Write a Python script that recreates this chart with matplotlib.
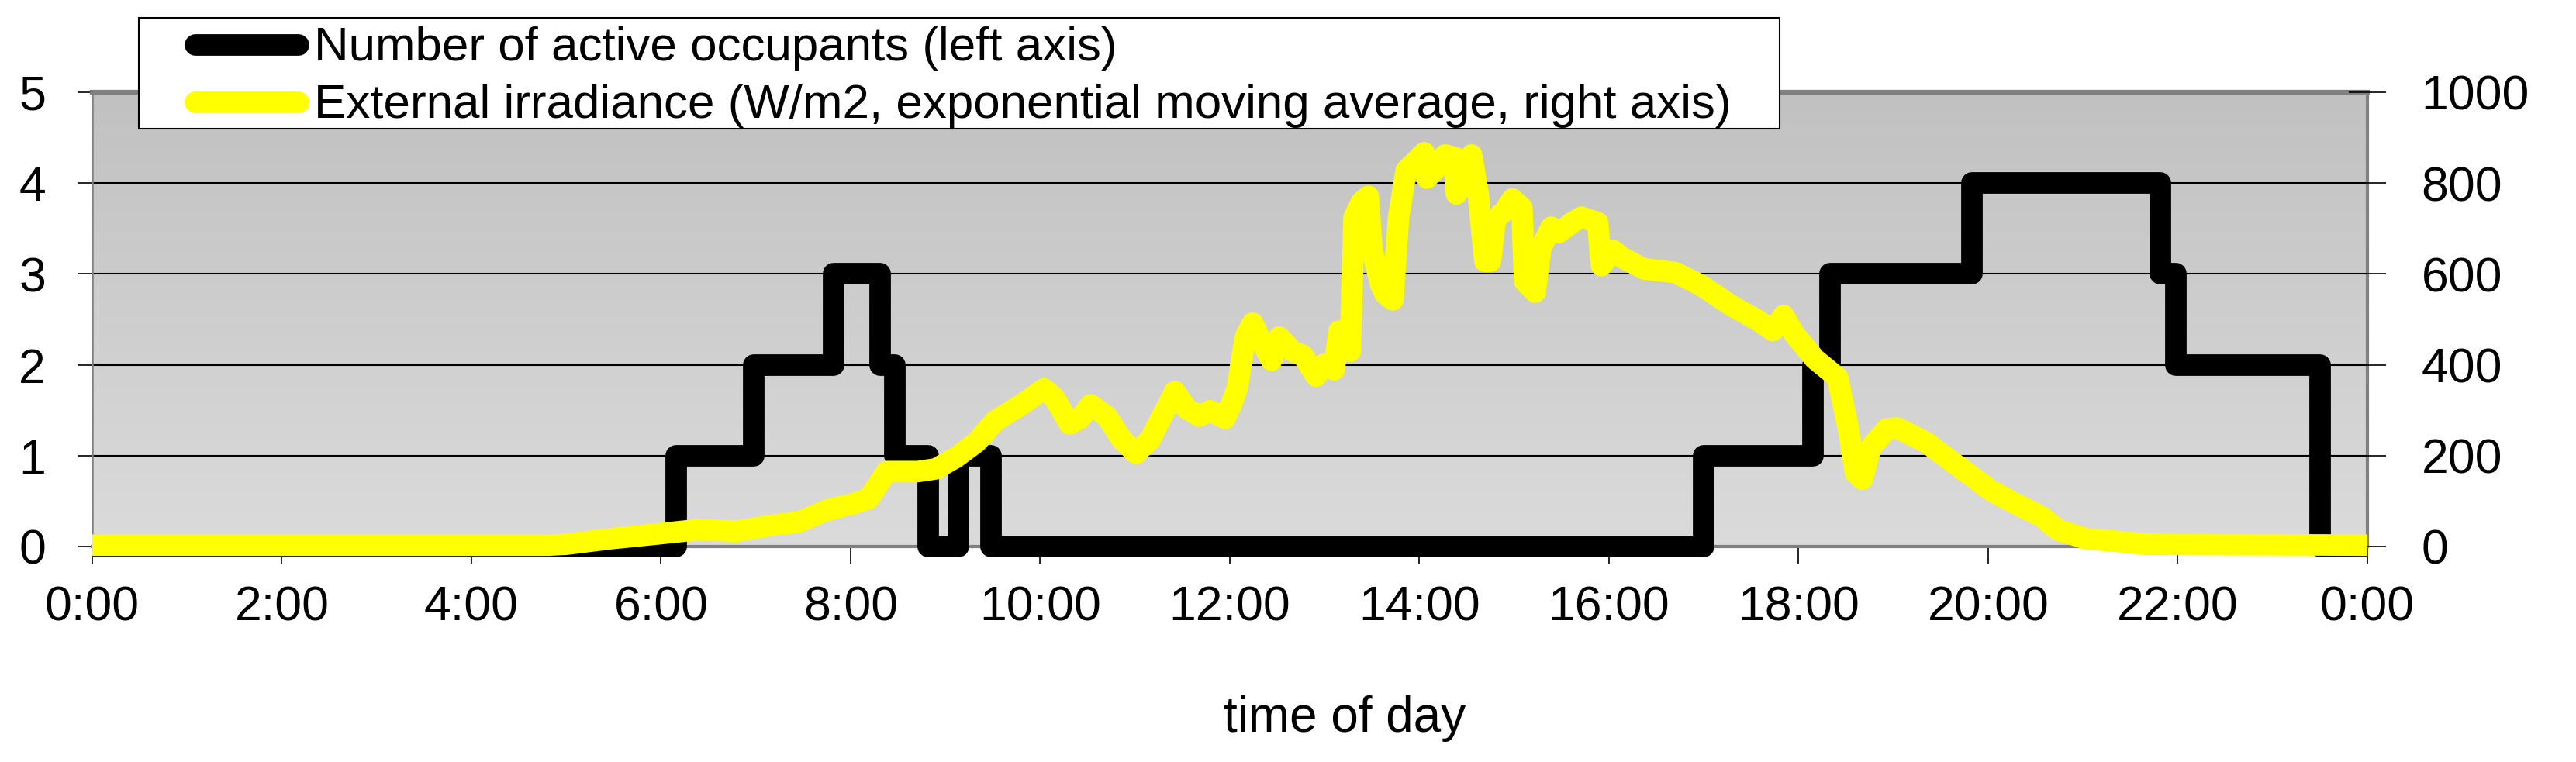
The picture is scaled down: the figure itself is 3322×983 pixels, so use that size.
import numpy as np
import matplotlib
matplotlib.use("Agg")
import matplotlib.pyplot as plt
from matplotlib.lines import Line2D
from matplotlib.patches import Rectangle
from matplotlib.colors import LinearSegmentedColormap

# ---------------- data ----------------
occ_hours = [0.0, 6.16, 6.98, 7.82, 8.31, 8.47, 8.82, 9.14, 9.48, 17.0, 18.15,
             18.33, 19.83, 21.82, 21.98, 23.50, 24.0]
occ_values = [0, 1, 2, 3, 2, 1, 0, 1, 0, 1, 2, 3, 4, 3, 2, 0, 0]

irr_hours = [0.00, 4.81, 5.00, 5.46, 5.98, 6.39, 6.80, 7.21, 7.45, 7.75, 8.02, 8.19,
             8.38, 8.71, 8.90, 9.11, 9.33, 9.52, 9.80, 10.04, 10.15, 10.31, 10.42,
             10.53, 10.70, 10.86, 11.01, 11.16, 11.30, 11.42, 11.54, 11.68, 11.79,
             11.95, 12.03, 12.08, 12.13, 12.17, 12.24, 12.33, 12.44, 12.52, 12.66,
             12.77, 12.91, 12.99, 13.10, 13.15, 13.20, 13.27, 13.31, 13.39, 13.46,
             13.50, 13.59, 13.64, 13.72, 13.78, 13.86, 13.97, 14.05, 14.08, 14.18,
             14.27, 14.38, 14.39, 14.49, 14.55, 14.62, 14.69, 14.75, 14.80, 14.90,
             14.98, 15.08, 15.11, 15.22, 15.28, 15.39, 15.47, 15.61, 15.71, 15.88,
             15.92, 16.04, 16.15, 16.37, 16.70, 16.97, 17.30, 17.57, 17.73, 17.84,
             17.95, 18.17, 18.41, 18.52, 18.60, 18.67, 18.76, 18.93, 19.04, 19.34,
             19.70, 20.03, 20.29, 20.57, 20.73, 21.03, 21.38, 21.66, 24.00]
irr_values = [3, 3, 5, 17, 28, 37, 34, 48, 54, 80, 94, 105,
              165, 165, 171, 196, 230, 276, 312, 347, 327, 270, 282,
              312, 287, 236, 205, 236, 293, 341, 304, 287, 299,
              282, 321, 350, 420, 465, 492, 452, 410, 461, 430,
              421, 375, 401, 389, 474, 469, 430, 725, 759, 771,
              652, 577, 555, 543, 725, 828, 850, 867, 811, 833,
              862, 856, 776, 805, 862, 776, 628, 628, 720, 739,
              765, 746, 584, 560, 657, 703, 691, 713, 725, 713,
              618, 652, 635, 611, 603, 575, 529, 498, 475, 509,
              469, 413, 372, 265, 162, 148, 218, 259, 261, 230,
              174, 123, 94, 65, 37, 17, 11, 5, 3]

x_ticks = list(range(0, 25, 2))
x_tick_labels = ["0:00", "2:00", "4:00", "6:00", "8:00", "10:00", "12:00",
                 "14:00", "16:00", "18:00", "20:00", "22:00", "0:00"]
left_ticks = [0, 1, 2, 3, 4, 5]
right_ticks = [0, 200, 400, 600, 800, 1000]

label_occ = "Number of active occupants (left axis)"
label_irr = "External irradiance (W/m2, exponential moving average, right axis)"
x_title = "time of day"

# ---------------- figure ----------------
plt.rcParams['font.family'] = ['Liberation Sans', 'DejaVu Sans']
W, H = 3323, 983
fig = plt.figure(figsize=(W / 100, H / 100), dpi=100)
fig.patch.set_facecolor('white')

ax = fig.add_axes([119 / W, 1 - 705 / H, 2934 / W, 586 / H])
ax2 = ax.twinx()

LW = 20

# gradient background
cmap = LinearSegmentedColormap.from_list('g', ['#C1C1C1', '#DBDBDB'])
ax.imshow(np.linspace(0, 1, 256).reshape(-1, 1), cmap=cmap, extent=[0, 1, 0, 1],
          transform=ax.transAxes, aspect='auto', zorder=0, interpolation='bilinear')

ax.plot(occ_hours, occ_values, drawstyle='steps-post', color='black', lw=LW,
        solid_joinstyle='round', solid_capstyle='butt', clip_on=False, zorder=3,
        label=label_occ)
ax2.plot(irr_hours, irr_values, color='#FFFF00', lw=LW,
         solid_joinstyle='round', solid_capstyle='butt', clip_on=False, zorder=3,
         label=label_irr)

ax.set_xlim(0, 24)
ax.set_ylim(0, 5)
ax2.set_ylim(0, 1000)

ax.set_xticks(x_ticks)
ax.set_xticklabels(x_tick_labels)
ax.set_yticks(left_ticks)
ax2.set_yticks(right_ticks)

ax.yaxis.grid(True, color='black', lw=1.5)
ax.set_axisbelow(True)

for s in ax.spines.values():
    s.set_color('#808080')
    s.set_linewidth(3)
ax.spines['top'].set_linewidth(4.5)
ax.spines['left'].set_linewidth(1.8)
for s in ax2.spines.values():
    s.set_visible(False)

ax.tick_params(axis='y', direction='out', length=13.7, width=1.2, pad=29.5,
               labelsize=45, color='black')
ax.tick_params(axis='x', direction='out', length=16, width=1.2, pad=19.5,
               labelsize=45, color='black')
ax2.tick_params(axis='y', direction='inout', length=34, width=1.2, pad=33,
                labelsize=45, color='black')

ax.set_xlabel(x_title, fontsize=46)
ax.xaxis.set_label_coords(0.5504, -0.3276)

# legend (manual box)
fig.add_artist(Rectangle((179 / W, 1 - 166 / H), 2116 / W, 143 / H,
                         transform=fig.transFigure, facecolor='white',
                         edgecolor='black', lw=1.5, zorder=5))
fig.add_artist(Line2D([252 / W, 385 / W], [1 - 58.3 / H] * 2,
                      transform=fig.transFigure, color='black', lw=LW,
                      solid_capstyle='round', zorder=6))
fig.add_artist(Line2D([252 / W, 385 / W], [1 - 132 / H] * 2,
                      transform=fig.transFigure, color='#FFFF00', lw=LW,
                      solid_capstyle='round', zorder=6))
fig.text(405 / W, 1 - 78 / H, label_occ, fontsize=44.6, va='baseline', ha='left', zorder=7)
fig.text(405 / W, 1 - 152 / H, label_irr, fontsize=44.6, va='baseline', ha='left', zorder=7)

fig.savefig('out.png', dpi=100)
